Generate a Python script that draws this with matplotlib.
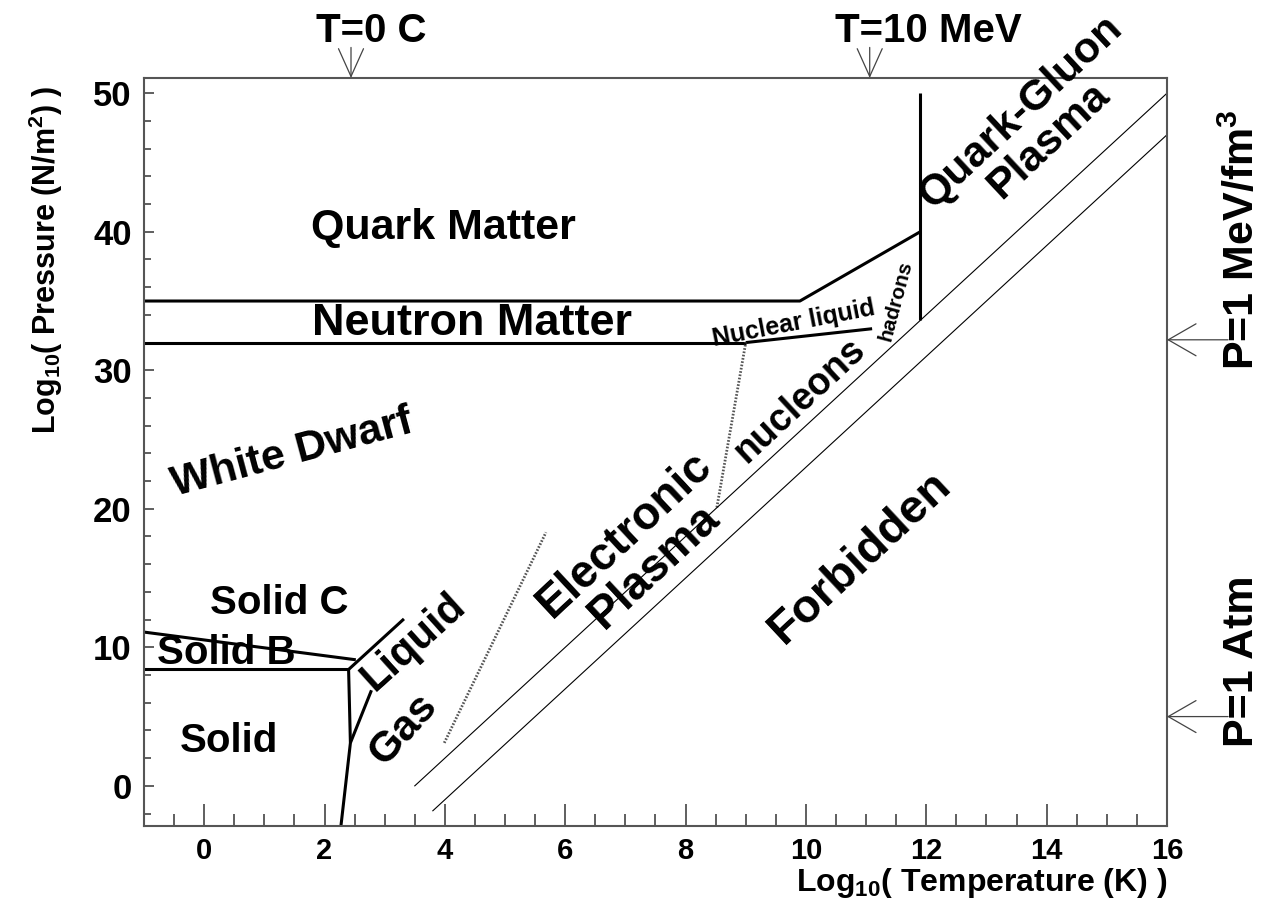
import matplotlib
matplotlib.use('Agg')
import matplotlib.pyplot as plt

plt.rcParams['font.family'] = ['Liberation Sans', 'DejaVu Sans']
plt.rcParams['font.weight'] = 'bold'
plt.rcParams['mathtext.default'] = 'regular'

# phase boundaries: log10 T [K] vs log10 P [N/m^2]
solid_b_x = [-1, 2.4]
solid_b_y = [8.4, 8.4]
solid_c_x = [-1, 2.52]
solid_c_y = [11.1, 9.1]
melt_x = [2.4, 3.32]
melt_y = [8.4, 12.05]
sublim_x = [2.27, 2.43, 2.4]
sublim_y = [-3.0, 3.1, 8.4]
boil_x = [2.43, 2.78]
boil_y = [3.1, 6.9]
neutron_top_x = [-1, 9.9, 11.9]
neutron_top_y = [35, 35, 40]
neutron_bot_x = [-1, 9.0]
neutron_bot_y = [32, 32]
nuc_liq_x = [9.0, 11.1]
nuc_liq_y = [32, 33]
qgp_x = [11.9, 11.9]
qgp_y = [33.6, 50]

# dotted ionisation / nucleon lines
ion_x = [3.99, 5.68]
ion_y = [3.1, 18.3]
nucl_x = [8.52, 9.0]
nucl_y = [20.1, 32]

# forbidden region edges
edge1_x = [3.5, 16]
edge1_y = [0, 50]
edge2_x = [3.8, 16]
edge2_y = [-1.8, 47]

t_marks = [2.44, 11.06]
t_labels = ['T=0 C', 'T=10 MeV']
p_marks = [5.0, 32.2]
p_labels = ['P=1 Atm', 'P=1 MeV/fm$^3$']

fig = plt.figure(figsize=(12.8, 9.08), dpi=100)
ax = fig.add_axes([0.1125, 0.0903, 0.7992, 0.8238])
ax.set_xlim(-1, 16)
ax.set_ylim(-2.9, 51.1)

thick = dict(color='black', lw=2.2, solid_capstyle='butt')
for xs, ys in [(solid_b_x, solid_b_y), (solid_c_x, solid_c_y), (melt_x, melt_y),
               (sublim_x, sublim_y), (boil_x, boil_y), (neutron_top_x, neutron_top_y),
               (neutron_bot_x, neutron_bot_y), (nuc_liq_x, nuc_liq_y), (qgp_x, qgp_y)]:
    ax.plot(xs, ys, **thick)

ax.plot(ion_x, ion_y, color='#555555', lw=2, linestyle=(0, (0.6, 0.6)))
ax.plot(nucl_x, nucl_y, color='#555555', lw=2, linestyle=(0, (0.6, 0.6)))
ax.plot(edge1_x, edge1_y, color='black', lw=0.8)
ax.plot(edge2_x, edge2_y, color='black', lw=0.8)

# axes styling (ROOT look)
ax.set_xticks(range(0, 17, 2))
ax.set_xticks([v / 2 for v in range(-2, 33)], minor=True)
ax.set_yticks(range(0, 51, 10))
ax.set_yticks(range(-2, 51, 2), minor=True)
ax.tick_params(axis='x', which='major', direction='in', length=16, width=1.2,
               labelsize=21, pad=8, color='#444444')
ax.tick_params(axis='x', which='minor', direction='in', length=8.5, width=1.2, color='#444444')
ax.tick_params(axis='y', which='major', direction='in', length=7, width=1.2,
               labelsize=25, pad=9, color='#444444')
ax.tick_params(axis='y', which='minor', direction='in', length=5, width=1.2, color='#444444')
for lab in ax.get_xticklabels() + ax.get_yticklabels():
    lab.set_fontweight('bold')
for sp in ax.spines.values():
    sp.set_color('#555555')
    sp.set_linewidth(1.5)

fig.text(1167 / 1280, 0.019, 'Log$_{10}$( Temperature (K) )', ha='right',
         va='baseline', fontsize=23, fontweight='bold')
fig.text(0.036, 0.906, 'Log$_{10}$( Pressure (N/m$^2$) )', ha='center', va='top',
         rotation=90, fontsize=22, fontweight='bold')

# region labels
lab = dict(fontweight='bold', ha='center', va='center', rotation_mode='anchor')
ax.text(3.97, 40.3, 'Quark Matter', fontsize=31, **lab)
ax.text(4.45, 33.4, 'Neutron Matter', fontsize=32.5, **lab)
ax.text(1.46, 24.0, 'White Dwarf', fontsize=31, rotation=15, **lab)
ax.text(1.24, 13.2, 'Solid C', fontsize=29, **lab)
ax.text(0.36, 9.6, 'Solid B', fontsize=29, **lab)
ax.text(0.41, 3.25, 'Solid', fontsize=29, **lab)
ax.text(3.48, 10.4, 'Liquid', fontsize=30, rotation=42, **lab)
ax.text(3.3, 4.1, 'Gas', fontsize=31, rotation=48, **lab)
ax.text(7.24, 17.0, 'Electronic\nPlasma', fontsize=33, rotation=43, linespacing=1.0, **lab)
ax.text(9.9, 27.8, 'nucleons', fontsize=27, rotation=43, **lab)
ax.text(9.8, 33.4, 'Nuclear liquid', fontsize=18, rotation=11, **lab)
ax.text(11.5, 35.0, 'hadrons', fontsize=15, rotation=75, **lab)
ax.text(13.8, 47.6, 'Quark-Gluon\nPlasma', fontsize=31, rotation=43, linespacing=1.0, **lab)
ax.text(10.9, 16.5, 'Forbidden', fontsize=34, rotation=43, **lab)

# reference arrows
top = ax.get_ylim()[1]
for xv, txt in zip(t_marks, t_labels):
    ax.annotate('', xy=(xv, top), xytext=(0, 22), textcoords='offset points',
                annotation_clip=False,
                arrowprops=dict(arrowstyle='->,head_length=2.0,head_width=0.9',
                                color='#444444', lw=0.9, shrinkA=0, shrinkB=0,
                                mutation_scale=10))
    ax.annotate(txt, xy=(xv, top), xytext=(-25, 26), textcoords='offset points',
                ha='left', va='baseline', fontsize=29, fontweight='bold',
                annotation_clip=False)

right = ax.get_xlim()[1]
for yv, txt in zip(p_marks, p_labels):
    ax.annotate('', xy=(right, yv), xytext=(44, 0), textcoords='offset points',
                annotation_clip=False,
                arrowprops=dict(arrowstyle='->,head_length=2.0,head_width=1.15',
                                color='#444444', lw=0.9, shrinkA=0, shrinkB=0,
                                mutation_scale=10))
    ax.annotate(txt, xy=(right, yv), xytext=(54, -22), textcoords='offset points',
                ha='center', va='bottom', rotation=90, fontsize=31, fontweight='bold',
                annotation_clip=False)

fig.savefig('out.png', dpi=100)
